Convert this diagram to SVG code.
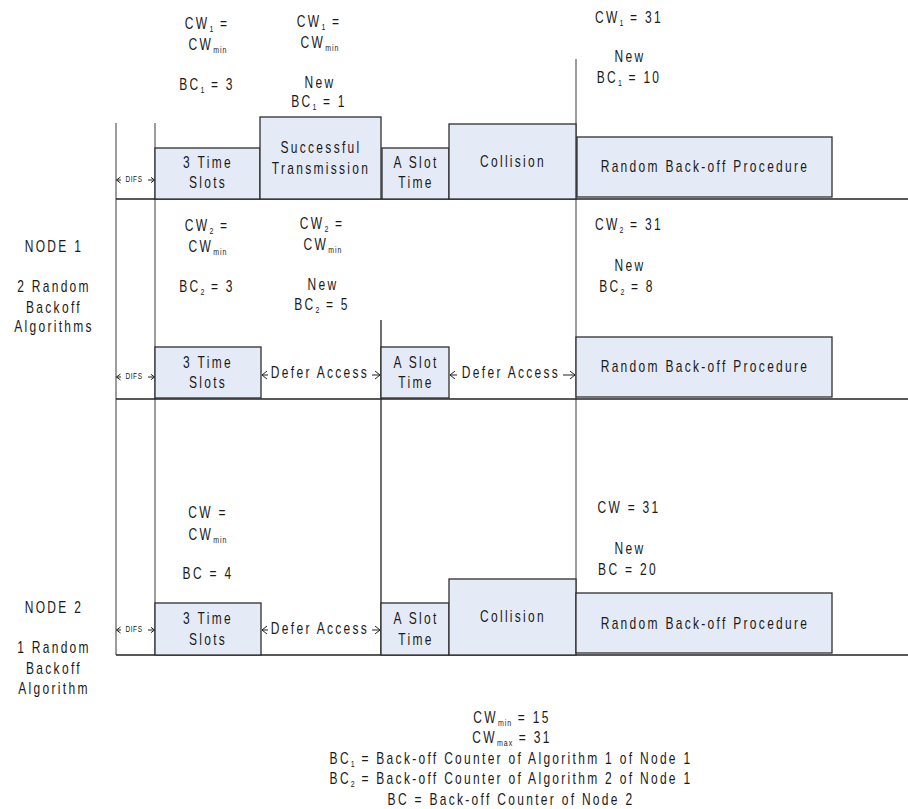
<svg xmlns="http://www.w3.org/2000/svg" width="908" height="809" viewBox="0 0 908 809">
  <defs>
    <style>
      text { font-family: "Liberation Sans", Arial, sans-serif; font-size: 12px; letter-spacing: 2.3px; fill: #1a1a1a; text-anchor: middle; }
      .sub { font-size: 7px; letter-spacing: 1px; }
      .tiny { font-size: 6.5px; letter-spacing: 0.6px; }
      .box { fill: #e5ebf6; stroke: #2e2e2e; stroke-width: 1.3; }
      .axis { stroke: #222; stroke-width: 1.3; fill: none; }
      .guide { stroke: #5a5a5a; stroke-width: 1.2; fill: none; }
      .arrow { stroke: #222; stroke-width: 1; fill: none; marker-end: url(#head); }
      .arrow-s { stroke: #222; stroke-width: 1; fill: none; marker-end: url(#headSmall); }
    </style>
    <marker id="head" markerUnits="userSpaceOnUse" markerWidth="8" markerHeight="10" refX="5" refY="5" orient="auto">
      <path d="M0,1 L5,5 L0,9" fill="none" stroke="#222" stroke-width="1"/>
    </marker>
    <marker id="headSmall" markerUnits="userSpaceOnUse" markerWidth="6" markerHeight="8" refX="4" refY="4" orient="auto">
      <path d="M0,1 L4,4 L0,7" fill="none" stroke="#222" stroke-width="1"/>
    </marker>
  </defs>

  <rect width="908" height="809" fill="#ffffff"/>

  <!-- time axes and slot boundaries -->
  <g id="connectors">
    <line class="guide" x1="116" y1="123" x2="116" y2="655"/>
    <line class="guide" x1="155" y1="123" x2="155" y2="655"/>
    <line class="axis" x1="381" y1="320" x2="381" y2="655"/>
    <line class="guide" x1="576" y1="59" x2="576" y2="593"/>
    <line class="axis" x1="116" y1="199" x2="908" y2="199"/>
    <line class="axis" x1="116" y1="399" x2="908" y2="399"/>
    <line class="axis" x1="116" y1="655" x2="908" y2="655"/>

    <!-- DIFS spans -->
    <line class="arrow-s" x1="121" y1="180" x2="116.5" y2="180"/>
    <line class="arrow-s" x1="148" y1="180" x2="154.5" y2="180"/>
    <line class="arrow-s" x1="121" y1="377" x2="116.5" y2="377"/>
    <line class="arrow-s" x1="148" y1="377" x2="154.5" y2="377"/>
    <line class="arrow-s" x1="121" y1="630" x2="116.5" y2="630"/>
    <line class="arrow-s" x1="148" y1="630" x2="154.5" y2="630"/>

    <!-- defer access spans -->
    <line class="arrow" x1="268" y1="375" x2="262" y2="375"/>
    <line class="arrow" x1="372" y1="375" x2="380" y2="375"/>
    <line class="arrow" x1="457" y1="375" x2="450" y2="375"/>
    <line class="arrow" x1="563" y1="375" x2="575" y2="375"/>
    <line class="arrow" x1="268" y1="630" x2="262" y2="630"/>
    <line class="arrow" x1="372" y1="630" x2="380" y2="630"/>
  </g>

  <!-- DIFS labels -->
  <g id="difs">
    <text class="tiny" transform="translate(134,182) scale(1,1.35)">DIFS</text>
    <text class="tiny" transform="translate(134,379) scale(1,1.35)">DIFS</text>
    <text class="tiny" transform="translate(134,632) scale(1,1.35)">DIFS</text>
  </g>

  <!-- Node 1, algorithm 1 -->
  <g id="n1a-slots">
    <rect class="box" x="155" y="148" width="105" height="51"/>
    <text transform="translate(208,168) scale(1,1.35)">3 Time</text>
    <text transform="translate(208,188) scale(1,1.35)">Slots</text>
  </g>
  <g id="n1a-success">
    <rect class="box" x="260" y="117" width="121" height="82"/>
    <text transform="translate(321,153) scale(1,1.35)">Successful</text>
    <text transform="translate(321,174) scale(1,1.35)">Transmission</text>
  </g>
  <g id="n1a-slot">
    <rect class="box" x="382" y="148" width="67" height="51"/>
    <text transform="translate(416,168) scale(1,1.35)">A Slot</text>
    <text transform="translate(416,188) scale(1,1.35)">Time</text>
  </g>
  <g id="n1a-collision">
    <rect class="box" x="449" y="124" width="127" height="75"/>
    <text transform="translate(513,167) scale(1,1.35)">Collision</text>
  </g>
  <g id="n1a-backoff">
    <rect class="box" x="577" y="137" width="255" height="60"/>
    <text transform="translate(705,172) scale(1,1.35)">Random Back-off Procedure</text>
  </g>
  <g id="n1a-notes">
    <text transform="translate(207,29) scale(1,1.35)">CW<tspan class="sub" dy="2">1</tspan><tspan dy="-2"> =</tspan></text>
    <text transform="translate(208,50) scale(1,1.35)">CW<tspan class="sub" dy="2">min</tspan></text>
    <text transform="translate(207,90) scale(1,1.35)">BC<tspan class="sub" dy="2">1</tspan><tspan dy="-2"> = 3</tspan></text>
    <text transform="translate(319,27) scale(1,1.35)">CW<tspan class="sub" dy="2">1</tspan><tspan dy="-2"> =</tspan></text>
    <text transform="translate(320,48) scale(1,1.35)">CW<tspan class="sub" dy="2">min</tspan></text>
    <text transform="translate(320,88) scale(1,1.35)">New</text>
    <text transform="translate(319,107) scale(1,1.35)">BC<tspan class="sub" dy="2">1</tspan><tspan dy="-2"> = 1</tspan></text>
    <text transform="translate(629,23) scale(1,1.35)">CW<tspan class="sub" dy="2">1</tspan><tspan dy="-2"> = 31</tspan></text>
    <text transform="translate(630,62) scale(1,1.35)">New</text>
    <text transform="translate(629,83) scale(1,1.35)">BC<tspan class="sub" dy="2">1</tspan><tspan dy="-2"> = 10</tspan></text>
  </g>

  <!-- Node 1, algorithm 2 -->
  <g id="n1b-slots">
    <rect class="box" x="155" y="347" width="106" height="51"/>
    <text transform="translate(208,368) scale(1,1.35)">3 Time</text>
    <text transform="translate(208,388) scale(1,1.35)">Slots</text>
  </g>
  <g id="n1b-defer1">
    <text transform="translate(320,378) scale(1,1.35)">Defer Access</text>
  </g>
  <g id="n1b-slot">
    <rect class="box" x="381" y="347" width="68" height="51"/>
    <text transform="translate(416,368) scale(1,1.35)">A Slot</text>
    <text transform="translate(416,388) scale(1,1.35)">Time</text>
  </g>
  <g id="n1b-defer2">
    <text transform="translate(511,378) scale(1,1.35)">Defer Access</text>
  </g>
  <g id="n1b-backoff">
    <rect class="box" x="576" y="337" width="256" height="60"/>
    <text transform="translate(705,372) scale(1,1.35)">Random Back-off Procedure</text>
  </g>
  <g id="n1b-notes">
    <text transform="translate(207,231) scale(1,1.35)">CW<tspan class="sub" dy="2">2</tspan><tspan dy="-2"> =</tspan></text>
    <text transform="translate(208,252) scale(1,1.35)">CW<tspan class="sub" dy="2">min</tspan></text>
    <text transform="translate(207,292) scale(1,1.35)">BC<tspan class="sub" dy="2">2</tspan><tspan dy="-2"> = 3</tspan></text>
    <text transform="translate(322,229) scale(1,1.35)">CW<tspan class="sub" dy="2">2</tspan><tspan dy="-2"> =</tspan></text>
    <text transform="translate(323,250) scale(1,1.35)">CW<tspan class="sub" dy="2">min</tspan></text>
    <text transform="translate(323,290) scale(1,1.35)">New</text>
    <text transform="translate(322,310) scale(1,1.35)">BC<tspan class="sub" dy="2">2</tspan><tspan dy="-2"> = 5</tspan></text>
    <text transform="translate(629,230) scale(1,1.35)">CW<tspan class="sub" dy="2">2</tspan><tspan dy="-2"> = 31</tspan></text>
    <text transform="translate(630,271) scale(1,1.35)">New</text>
    <text transform="translate(627,292) scale(1,1.35)">BC<tspan class="sub" dy="2">2</tspan><tspan dy="-2"> = 8</tspan></text>
  </g>

  <!-- Node 2 -->
  <g id="n2-slots">
    <rect class="box" x="155" y="603" width="106" height="52"/>
    <text transform="translate(208,624) scale(1,1.35)">3 Time</text>
    <text transform="translate(208,645) scale(1,1.35)">Slots</text>
  </g>
  <g id="n2-defer">
    <text transform="translate(320,634) scale(1,1.35)">Defer Access</text>
  </g>
  <g id="n2-slot">
    <rect class="box" x="381" y="603" width="68" height="52"/>
    <text transform="translate(416,624) scale(1,1.35)">A Slot</text>
    <text transform="translate(416,645) scale(1,1.35)">Time</text>
  </g>
  <g id="n2-collision">
    <rect class="box" x="449" y="579" width="127" height="76"/>
    <text transform="translate(513,622) scale(1,1.35)">Collision</text>
  </g>
  <g id="n2-backoff">
    <rect class="box" x="576" y="593" width="256" height="60"/>
    <text transform="translate(705,629) scale(1,1.35)">Random Back-off Procedure</text>
  </g>
  <g id="n2-notes">
    <text transform="translate(208,518) scale(1,1.35)">CW =</text>
    <text transform="translate(208,540) scale(1,1.35)">CW<tspan class="sub" dy="2">min</tspan></text>
    <text transform="translate(208,579) scale(1,1.35)">BC = 4</text>
    <text transform="translate(629,513) scale(1,1.35)">CW = 31</text>
    <text transform="translate(630,554) scale(1,1.35)">New</text>
    <text transform="translate(628,575) scale(1,1.35)">BC = 20</text>
  </g>

  <!-- row captions -->
  <g id="node1-caption">
    <text transform="translate(54,252) scale(1,1.35)">NODE 1</text>
    <text transform="translate(54,292) scale(1,1.35)">2 Random</text>
    <text transform="translate(54,313) scale(1,1.35)">Backoff</text>
    <text transform="translate(54,332) scale(1,1.35)">Algorithms</text>
  </g>
  <g id="node2-caption">
    <text transform="translate(54,613) scale(1,1.35)">NODE 2</text>
    <text transform="translate(54,653) scale(1,1.35)">1 Random</text>
    <text transform="translate(54,674) scale(1,1.35)">Backoff</text>
    <text transform="translate(54,694) scale(1,1.35)">Algorithm</text>
  </g>

  <!-- legend -->
  <g id="legend">
    <text transform="translate(512,723) scale(1,1.35)">CW<tspan class="sub" dy="2">min</tspan><tspan dy="-2"> = 15</tspan></text>
    <text transform="translate(512,743) scale(1,1.35)">CW<tspan class="sub" dy="2">max</tspan><tspan dy="-2"> = 31</tspan></text>
    <text transform="translate(511,764) scale(1,1.35)">BC<tspan class="sub" dy="2">1</tspan><tspan dy="-2"> = Back-off Counter of Algorithm 1 of Node 1</tspan></text>
    <text transform="translate(511,784) scale(1,1.35)">BC<tspan class="sub" dy="2">2</tspan><tspan dy="-2"> = Back-off Counter of Algorithm 2 of Node 1</tspan></text>
    <text transform="translate(511,805) scale(1,1.35)">BC = Back-off Counter of Node 2</text>
  </g>
</svg>
